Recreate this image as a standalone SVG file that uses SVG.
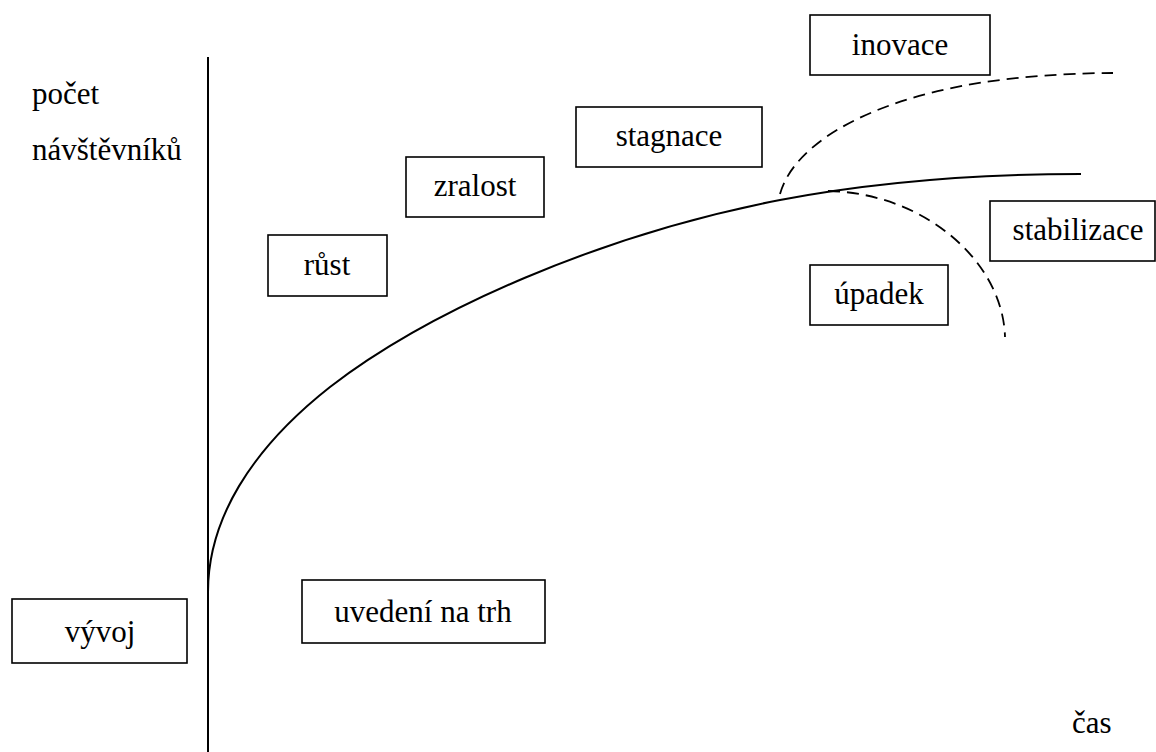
<svg xmlns="http://www.w3.org/2000/svg" width="1156" height="752" viewBox="0 0 1156 752">
<style>
.box{fill:#fff;stroke:#000;stroke-width:1.6}
.t{font-size:31px;fill:#000}
.c{text-anchor:middle}
.solid{fill:none;stroke:#000;stroke-width:2}
.dash{fill:none;stroke:#000;stroke-width:1.8;stroke-dasharray:12 7}
</style>
<rect width="1156" height="752" fill="#fff"/>
<g font-family="Liberation Serif, Times New Roman, serif">
<g id="axis">
<line x1="208" y1="57" x2="208" y2="752" stroke="#000" stroke-width="2"/>
<text class="t" x="32" y="104">počet</text>
<text class="t" x="32" y="160">návštěvníků</text>
<text class="t" x="1072" y="733">čas</text>
</g>
<g id="connectors">
<path class="solid" d="M208,592 C208,520 250,450 330,387 C430,310 600,235 780,200 C880,181 980,174 1081,174"/>
<path class="dash" d="M780,194 C795,140 880,95 1000,80 C1040,75 1080,73 1113,73"/>
<path class="dash" d="M828,191 C925,193 1003,262 1005,337"/>
</g>
<g id="inovace"><rect class="box" x="810" y="15" width="180" height="60"/><text class="t c" x="900" y="55">inovace</text></g>
<g id="stagnace"><rect class="box" x="576" y="107" width="186" height="60"/><text class="t c" x="669" y="146">stagnace</text></g>
<g id="zralost"><rect class="box" x="406" y="157" width="138" height="60"/><text class="t c" x="475" y="196">zralost</text></g>
<g id="rust"><rect class="box" x="268" y="235" width="119" height="61"/><text class="t c" x="327" y="275">růst</text></g>
<g id="stabilizace"><rect class="box" x="990" y="201" width="165" height="60"/><text class="t c" x="1078" y="240">stabilizace</text></g>
<g id="upadek"><rect class="box" x="810" y="265" width="138" height="60"/><text class="t c" x="879" y="304">úpadek</text></g>
<g id="vyvoj"><rect class="box" x="12" y="599" width="175" height="64"/><text class="t c" x="100" y="642">vývoj</text></g>
<g id="uvedeni"><rect class="box" x="302" y="580" width="243" height="63"/><text class="t c" x="423" y="622">uvedení na trh</text></g>
</g>
</svg>
